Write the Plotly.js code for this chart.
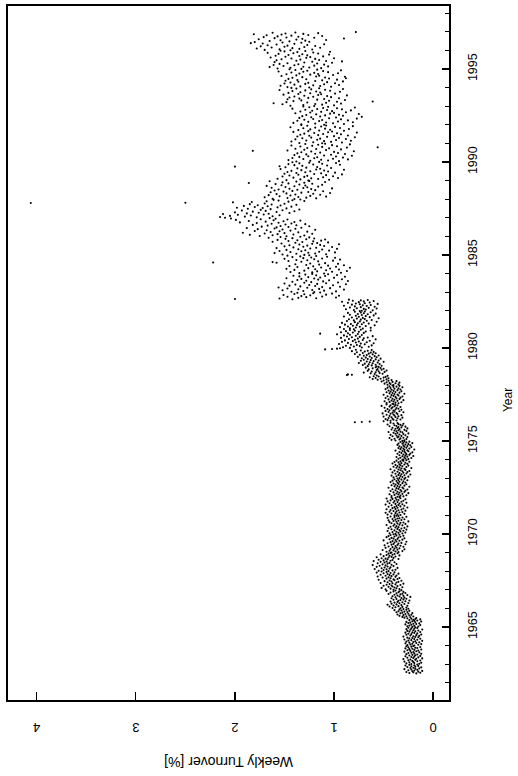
<!DOCTYPE html>
<html>
<head>
<meta charset="utf-8">
<script src="https://cdn.plot.ly/plotly-3.0.1.min.js"></script>
<style>html,body{margin:0;padding:0;background:#fff;}#chart{width:518px;height:776px;}</style>
</head>
<body>
<div id="chart"></div>
<script>
// Weekly turnover [%] (one array per calendar year)
const w1962 = [.17,.24,.13,.20,.27,.15,.21,.11,.19,.25,.16,.22,.29,.18,.14,.23,.20,.12,.26,.18,.22,.15,.28,.19,.24,.16];
const w1963 = [.22,.14,.27,.19,.12,.24,.20,.29,.16,.21,.13,.25,.18,.23,.30,.17,.11,.20,.26,.15,.22,.19,.28,.13,.24,.18,.21,.16,.27,.12,.19,.25,.22,.14,.20,.29,.17,.23,.15,.26,.19,.12,.24,.21,.28,.16,.18,.25,.13,.22,.27,.20];
const w1964 = [.19,.26,.15,.23,.12,.21,.28,.17,.24,.14,.20,.27,.18,.11,.25,.22,.16,.29,.19,.13,.24,.21,.26,.15,.18,.30,.20,.14,.23,.17,.27,.12,.22,.25,.16,.19,.28,.21,.13,.24,.18,.26,.15,.20,.23,.11,.27,.19,.22,.16,.25,.18];
const w1965 = [.21,.15,.26,.19,.24,.13,.22,.28,.17,.20,.14,.25,.23,.18,.27,.12,.21,.19,.16,.24,.20,.13,.18,.22,.26,.17,.29,.23,.31,.20,.27,.34,.24,.30,.22,.36,.28,.25,.33,.21,.31,.37,.26,.29,.35,.24,.32,.39,.27,.34,.30,.25];
const w1966 = [.33,.41,.27,.38,.31,.44,.35,.26,.40,.32,.46,.37,.29,.42,.34,.25,.39,.31,.36,.43,.28,.35,.24,.33,.40,.30,.37,.27,.42,.32,.29,.38,.23,.34,.41,.30,.36,.26,.39,.33,.45,.31,.37,.28,.43,.35,.30,.40,.34,.47,.38,.32];
const w1967 = [.40,.48,.34,.43,.37,.52,.39,.31,.45,.41,.36,.50,.42,.33,.47,.38,.44,.30,.41,.53,.37,.46,.35,.42,.49,.32,.44,.39,.55,.40,.36,.47,.43,.34,.51,.45,.38,.56,.42,.48,.37,.44,.53,.40,.46,.35,.50,.43,.57,.39,.47,.52];
const w1968 = [.45,.55,.41,.50,.38,.47,.59,.44,.52,.36,.49,.43,.57,.46,.40,.54,.48,.61,.42,.51,.37,.46,.56,.44,.49,.39,.53,.47,.60,.43,.50,.41,.55,.46,.35,.48,.52,.40,.45,.57,.42,.38,.50,.44,.34,.47,.41,.53,.39,.45,.36,.43];
const w1969 = [.42,.35,.47,.38,.31,.44,.40,.51,.36,.29,.43,.39,.34,.48,.37,.41,.30,.45,.38,.33,.49,.36,.42,.28,.40,.35,.46,.32,.39,.43,.27,.37,.41,.34,.50,.38,.31,.44,.36,.40,.29,.42,.35,.47,.33,.39,.45,.30,.37,.43,.34,.40];
const w1970 = [.38,.31,.44,.35,.28,.41,.37,.33,.46,.30,.39,.34,.27,.42,.36,.32,.45,.29,.38,.35,.43,.26,.37,.40,.31,.47,.34,.39,.28,.36,.42,.33,.30,.44,.37,.25,.40,.35,.45,.32,.38,.29,.41,.36,.34,.46,.31,.39,.27,.43,.35,.37];
const w1971 = [.39,.33,.46,.36,.29,.42,.38,.48,.34,.31,.44,.37,.40,.28,.35,.43,.32,.47,.38,.30,.41,.36,.26,.39,.45,.33,.37,.29,.42,.35,.48,.31,.38,.34,.44,.27,.40,.36,.32,.46,.39,.30,.43,.35,.37,.28,.41,.47,.33,.38,.42,.34];
const w1972 = [.36,.30,.42,.33,.27,.39,.35,.44,.31,.37,.25,.34,.40,.29,.36,.32,.43,.28,.38,.33,.26,.41,.35,.30,.37,.45,.31,.34,.24,.39,.36,.29,.42,.33,.38,.27,.35,.40,.31,.36,.28,.43,.34,.30,.37,.41,.26,.35,.32,.39,.29,.36];
const w1973 = [.34,.28,.40,.31,.25,.37,.33,.42,.29,.35,.23,.32,.38,.27,.34,.30,.41,.26,.36,.31,.24,.39,.33,.28,.35,.43,.29,.32,.22,.37,.34,.27,.40,.31,.36,.25,.33,.38,.29,.34,.26,.41,.32,.28,.35,.39,.24,.33,.30,.37,.27,.31];
const w1974 = [.30,.25,.35,.28,.22,.33,.29,.37,.26,.31,.20,.28,.34,.24,.30,.27,.36,.23,.32,.28,.21,.34,.29,.25,.31,.38,.26,.29,.19,.33,.30,.24,.35,.27,.32,.22,.29,.34,.26,.30,.23,.36,.28,.25,.31,.35,.21,.30,.27,.33,.24,.29];
const w1975 = [.31,.38,.29,.42,.34,.27,.39,.33,.44,.30,.36,.26,.35,.41,.32,.37,.28,.43,.34,.30,.38,.25,.36,.40,.31,.45,.33,.37,.27,.39,.35,.29,.42,.34,.38,.26,.36,.41,.32,.35,.28,.44,.37,.31,.39,.33,.46,.35,.30,.40,.36,.43];
const w1976 = [.79,.72,.64,.50,.43,.37,.46,.40,.33,.48,.41,.36,.45,.31,.42,.38,.50,.35,.44,.39,.32,.47,.40,.36,.43,.51,.37,.41,.30,.45,.39,.34,.48,.40,.44,.32,.38,.46,.35,.42,.37,.49,.41,.33,.44,.39,.52,.36,.43,.38,.47,.40];
const w1977 = [.41,.35,.47,.38,.32,.44,.40,.49,.36,.42,.30,.39,.45,.34,.41,.37,.48,.33,.43,.38,.31,.46,.40,.35,.42,.50,.36,.39,.29,.44,.41,.34,.47,.38,.43,.32,.40,.45,.36,.42,.33,.48,.39,.35,.43,.46,.31,.40,.37,.44,.34,.41];
const w1978 = [.40,.46,.35,.43,.49,.38,.44,.34,.47,.41,.52,.37,.45,.50,.42,.56,.47,.61,.53,.45,.58,.50,.64,.48,.55,.60,.46,.57,.87,.82,.86,.59,.51,.63,.54,.70,.58,.49,.62,.55,.66,.47,.57,.52,.65,.56,.50,.61,.53,.68,.58,.55];
const w1979 = [.57,.66,.52,.62,.71,.58,.65,.54,.69,.61,.75,.56,.64,.50,.67,.60,.73,.55,.63,.70,.58,.66,.53,.72,.62,.68,.57,.76,.64,.59,.70,.55,.67,.74,.61,.79,.65,.58,.71,.63,.77,.60,.69,.82,.66,.73,.62,.78,1.09,1.02,.97,.94];
const w1980 = [.84,.72,.91,.65,.80,.74,.88,.62,.77,.83,.69,.95,.73,.60,.86,.78,.67,.92,.75,.81,.64,.89,.71,.79,.58,.85,.76,.70,.93,.66,.82,.74,.87,.61,.78,.90,.72,.84,.97,.76,1.14,.86,.70,.81,.93,.75,.68,.88,.79,.63,.84,.73];
const w1981 = [.80,.90,.71,.84,.63,.78,.94,.74,.86,.68,.81,.59,.77,.89,.72,.83,.65,.76,.92,.70,.79,.57,.74,.87,.67,.80,.62,.73,.85,.69,.77,.55,.71,.82,.64,.75,.90,.68,.78,.60,.72,.84,.66,.76,.58,.70,.86,.73,.63,.79,.69,.74];
const w1982 = [.72,.61,.80,.68,.88,.70,.57,.77,.65,.84,.73,.59,.79,.67,.90,.71,.63,.82,.74,.56,.78,.69,.86,.64,.75,.92,.70,.60,.81,.73,.66,.85,1.42,2.00,1.55,1.18,1.36,.98,1.28,1.47,1.12,1.33,.95,1.24,1.51,1.08,1.30,1.40,1.02,1.21,1.37,1.14];
const w1983 = [1.20,1.43,.98,1.31,1.10,1.52,1.22,.90,1.36,1.15,1.47,1.04,1.27,1.56,1.12,.94,1.34,1.19,1.45,1.01,1.25,1.39,.88,1.17,1.50,1.08,1.30,.96,1.23,1.42,1.11,.86,1.28,1.05,1.37,1.16,.92,1.33,1.20,1.48,1.00,1.14,1.26,.89,1.35,1.09,1.41,1.18,.97,1.29,1.06,1.22];
const w1984 = [1.10,1.35,.93,1.22,1.44,1.02,1.17,.87,1.30,1.08,1.40,.95,1.19,1.48,1.04,1.26,.84,1.13,1.37,.98,1.21,1.45,1.06,.90,1.28,1.15,1.39,.96,1.24,1.09,1.58,2.22,1.62,1.33,1.16,1.46,1.01,1.27,1.38,.94,1.20,1.50,1.12,1.31,.99,1.23,1.42,1.07,1.34,1.18,1.47,1.25];
const w1985 = [1.30,1.52,1.08,1.38,1.19,1.60,1.26,.99,1.44,1.15,1.33,1.55,1.05,1.29,1.48,1.12,1.36,.97,1.24,1.58,1.18,1.41,1.02,1.31,1.50,1.10,1.27,1.45,1.14,1.35,.95,1.22,1.53,1.17,1.39,1.06,1.32,1.62,1.21,1.46,1.13,1.37,1.57,1.09,1.28,1.49,1.20,1.42,1.66,1.25,1.54,1.34];
const w1986 = [1.48,1.75,1.30,1.62,1.85,1.41,1.57,1.22,1.70,1.50,1.92,1.36,1.64,1.27,1.55,1.80,1.44,1.68,1.19,1.52,1.77,1.39,1.60,1.88,1.33,1.58,1.46,1.73,1.25,1.54,1.67,1.38,1.82,1.49,1.29,1.63,1.43,1.78,1.56,1.95,1.40,1.69,1.51,1.86,1.34,1.61,1.99,1.47,1.74,1.59,2.04,1.65];
const w1987 = [2.10,1.78,2.15,1.90,1.62,2.05,1.84,1.55,1.97,1.71,2.12,1.66,1.88,1.45,1.76,2.00,1.58,1.82,1.40,1.69,1.93,1.52,1.74,1.35,1.64,1.87,1.48,1.72,1.98,1.57,1.80,1.43,1.67,1.91,1.54,1.77,1.38,1.63,1.85,1.50,1.70,4.06,2.50,2.02,1.83,1.46,1.68,1.30,1.56,1.42,1.61,1.34];
const w1988 = [1.40,1.62,1.18,1.47,1.28,1.70,1.36,1.08,1.55,1.24,1.44,1.66,1.14,1.39,1.58,1.21,1.48,1.04,1.33,1.64,1.26,1.51,1.11,1.42,1.60,1.19,1.37,1.56,1.23,1.45,1.02,1.31,1.63,1.27,1.49,1.16,1.40,1.68,1.29,1.53,1.12,1.35,1.59,1.22,1.46,1.86,1.30,1.52,1.09,1.38,1.65,1.25];
const w1989 = [1.26,1.48,1.05,1.34,1.16,1.57,1.23,.96,1.41,1.11,1.30,1.52,1.01,1.27,1.45,1.08,1.36,.92,1.20,1.50,1.13,1.38,.99,1.29,1.47,1.06,1.24,1.43,1.10,1.33,.90,1.18,1.54,1.14,1.37,1.03,1.28,1.49,1.17,2.00,1.55,1.32,1.07,1.40,.94,1.21,1.46,1.12,1.35,.98,1.25,1.42];
const w1990 = [1.15,1.38,.95,1.24,1.06,1.46,1.13,.86,1.31,1.01,1.20,1.42,.91,1.17,1.35,.98,1.26,.82,1.10,1.40,1.03,1.28,.89,1.19,1.37,.96,1.14,1.33,1.00,1.23,.80,1.82,1.47,1.08,1.30,.93,1.18,1.39,1.05,1.27,.87,.56,1.12,1.34,.97,1.22,1.43,1.02,1.16,.84,1.29,1.09];
const w1991 = [1.12,1.35,.92,1.21,1.03,1.43,1.10,.83,1.28,.98,1.17,1.39,.88,1.14,1.32,.95,1.23,.79,1.07,1.37,1.00,1.25,.86,1.16,1.34,.93,1.11,1.30,.97,1.20,.77,1.06,1.41,1.02,1.26,.90,1.15,1.36,1.04,1.24,.85,1.09,1.31,.94,1.19,1.44,.99,1.13,.81,1.27,1.08,1.33];
const w1992 = [1.10,1.33,.90,1.19,1.01,1.41,1.08,.81,1.26,.96,1.15,1.37,.86,1.12,1.30,.93,1.21,.77,1.05,1.35,.98,1.23,.72,1.14,1.32,.91,1.09,1.28,.95,1.18,.75,1.04,1.39,1.00,1.24,.88,1.13,1.34,1.02,1.22,.83,1.07,1.29,.92,1.17,1.42,.97,1.11,.79,1.25,1.06,1.31];
const w1993 = [1.20,1.44,1.00,1.31,1.12,1.52,1.19,.93,1.61,1.08,1.27,1.48,.97,.61,1.41,1.05,1.33,.89,1.17,1.47,1.10,1.35,.95,1.26,1.45,1.03,1.21,1.40,1.07,1.30,.87,1.16,1.51,1.13,1.36,.99,1.24,1.46,1.14,1.34,.94,1.18,1.42,1.04,1.29,1.55,1.09,1.23,.91,1.38,1.15,1.43];
const w1994 = [1.25,1.47,1.03,1.34,1.14,1.54,1.21,.95,1.40,1.10,1.29,1.50,.99,1.26,1.44,1.07,1.36,.91,1.19,1.49,1.12,1.37,.97,1.28,1.46,1.05,.88,1.42,1.09,1.32,.89,1.18,1.53,1.15,1.38,1.01,1.24,1.48,1.16,1.35,.96,1.20,1.43,1.06,1.31,1.56,1.11,1.27,.93,1.39,1.17,1.45];
const w1995 = [1.33,1.57,1.13,1.44,1.25,1.65,1.31,1.06,1.51,1.20,1.40,1.61,1.10,1.36,1.55,1.17,1.47,1.02,1.30,1.60,1.22,.92,1.08,1.38,1.58,1.15,1.34,1.53,1.19,1.43,1.00,1.28,1.64,1.24,1.49,1.11,1.35,1.59,1.27,1.46,1.05,1.32,1.56,1.16,1.41,1.67,1.21,1.37,1.04,1.50,1.29,1.54];
const w1996 = [1.44,1.70,1.22,1.55,1.35,1.78,1.42,1.14,1.63,1.30,1.50,1.74,1.19,1.47,1.67,1.27,1.58,1.10,1.40,1.72,1.84,1.33,1.52,1.80,1.25,1.45,1.65,1.29,1.54,1.08,1.38,1.76,1.32,.90,1.60,1.20,1.48,1.71,1.36,1.57,1.12,1.43,1.68,1.26,1.53,1.81,1.31,1.49,1.16,1.62,1.39,.78];

// Year each block starts at (1962 begins in July)
const blockStarts = [1962.5,1963,1964,1965,1966,1967,1968,1969,1970,1971,1972,1973,1974,1975,1976,1977,1978,1979,1980,1981,1982,1983,1984,1985,1986,1987,1988,1989,1990,1991,1992,1993,1994,1995,1996];
const blocks = [w1962,w1963,w1964,w1965,w1966,w1967,w1968,w1969,w1970,w1971,w1972,w1973,w1974,w1975,w1976,w1977,w1978,w1979,w1980,w1981,w1982,w1983,w1984,w1985,w1986,w1987,w1988,w1989,w1990,w1991,w1992,w1993,w1994,w1995,w1996];

const yearTicks = [1965,1970,1975,1980,1985,1990,1995];
const yearTickText = ['1965','1970','1975','1980','1985','1990','1995'];
const turnoverTicks = [0,1,2,3,4];
const turnoverTickText = ['0','1','2','3','4'];

const xs = [], ys = [];
blocks.forEach((arr, k) => {
  arr.forEach((v, i) => { ys.push(blockStarts[k] + (i + 0.5) / 52.18); xs.push(v); });
});

const trace = {
  type: 'scatter', mode: 'markers', x: xs, y: ys,
  marker: {color: 'black', size: 2.1}, hoverinfo: 'skip'
};

const FONT = 'Liberation Sans, Arial, Helvetica, sans-serif';
const layout = {
  width: 518, height: 776,
  margin: {l: 8, r: 69, t: 6, b: 76, pad: 0},
  paper_bgcolor: 'white', plot_bgcolor: 'white',
  showlegend: false,
  font: {family: FONT, color: 'black', size: 13},
  xaxis: {
    range: [4.29, -0.16], tickmode: 'array', tickvals: turnoverTicks, ticktext: turnoverTickText,
    ticks: 'inside', ticklen: 8, tickwidth: 1.3, tickcolor: 'black', tickangle: 180,
    tickfont: {family: FONT, size: 13, color: 'black'}, ticklabelstandoff: 19,
    showline: true, mirror: true, linecolor: 'black', linewidth: 1.6,
    showgrid: false, zeroline: false
  },
  yaxis: {
    side: 'right', range: [1961.08, 1998.39], tickmode: 'array', tickvals: yearTicks, ticktext: yearTickText,
    ticks: 'inside', ticklen: 7, tickwidth: 1.3, tickcolor: 'black', tickangle: -90,
    tickfont: {family: FONT, size: 12.5, color: 'black'}, ticklabelstandoff: 11,
    minor: {tick0: 1960, dtick: 1, ticks: 'inside', ticklen: 4, tickwidth: 1, tickcolor: 'black', showgrid: false},
    showline: true, mirror: true, linecolor: 'black', linewidth: 1.6,
    showgrid: false, zeroline: false
  },
  annotations: [
    {text: 'Weekly Turnover [%]', xref: 'paper', yref: 'paper', x: 0.5, y: -0.089,
     xanchor: 'center', yanchor: 'middle', textangle: 180, showarrow: false,
     font: {family: FONT, size: 14, color: 'black'}},
    {text: 'Year', xref: 'paper', yref: 'paper', x: 1.1335, y: 0.432,
     xanchor: 'center', yanchor: 'middle', textangle: -90, showarrow: false,
     font: {family: FONT, size: 12, color: 'black'}}
  ]
};

Plotly.newPlot('chart', [trace], layout, {displayModeBar: false, staticPlot: true});
</script>
</body>
</html>
